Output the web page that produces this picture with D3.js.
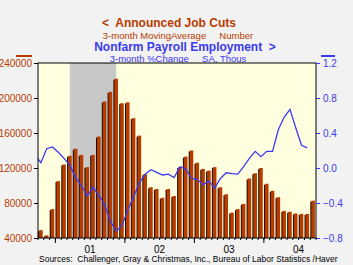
<!DOCTYPE html>
<html>
<head>
<meta charset="utf-8">
<script src="https://cdn.jsdelivr.net/npm/d3@7"></script>
<style>
  body { margin: 0; background: #f2f2f2; }
  svg { display: block; font-family: Arial, "Liberation Sans", sans-serif; }
</style>
</head>
<body>
<div id="chart"></div>
<script>
/* Data: monthly, Oct 2000 - Sep 2004 */
const startMonth = new Date(2000, 9, 1);
const jobCuts = [
  49000, 43000, 73000, 105000, 124000, 134000, 142000, 135000, 121000, 135000, 156000, 196000,
  207000, 222000, 194000, 195000, 177000, 157000, 113000, 98000, 96000, 86000, 96000, 88000,
  121000, 133000, 140000, 126000, 119000, 117000, 121000, 98000, 90000, 69000, 73000, 79000,
  108000, 114000, 120000, 102000, 94000, 86600, 71000, 70000, 68000, 67500, 67500, 82700
];
/* Payroll 3-month % change, Sep 2000 - Aug 2004 */
const payrollStart = new Date(2000, 8, 1);
const payroll = [
  0.15, 0.06, 0.22, 0.24, 0.18, 0.11, 0.03, -0.11, -0.20, -0.32, -0.22, -0.31, -0.42,
  -0.61, -0.72, -0.66, -0.48, -0.33, -0.17, -0.07, -0.02, -0.05, -0.08, -0.07, -0.11,
  0.015, -0.01, -0.12, -0.13, -0.19, -0.15, -0.23, -0.12, -0.055, -0.065, -0.07, 0.015,
  0.11, 0.19, 0.13, 0.19, 0.19, 0.44, 0.58, 0.67, 0.46, 0.26, 0.23
];
const recession = [new Date(2001, 2, 1), new Date(2001, 10, 1)];
const yearLabels = ["01", "02", "03", "04"];
const leftTicks = [40000, 80000, 120000, 160000, 200000, 240000];
const rightTicks = [-0.8, -0.4, 0.0, 0.4, 0.8, 1.2];

const orange = "#b83c00";
const blue = "#3a3af0";

const W = 353, H = 265;
const margin = { top: 63, right: 37, bottom: 27, left: 38 };
const iw = W - margin.left - margin.right;
const ih = H - margin.top - margin.bottom;

const svg = d3.select("#chart").append("svg").attr("width", W).attr("height", H);

/* month index scale */
const monthIdx = d => d3.timeMonth.count(startMonth, d);
const x = d3.scaleLinear().domain([0, 48]).range([margin.left, margin.left + iw]);
const yL = d3.scaleLinear().domain([40000, 240000]).range([margin.top + ih, margin.top]);
const yR = d3.scaleLinear().domain([-0.8, 1.2]).range([margin.top + ih, margin.top]);

/* Titles */
svg.append("text").attr("x", 169).attr("y", 27).attr("text-anchor", "middle")
  .style("font-size", "12px").style("font-weight", "bold").style("fill", orange)
  .attr("xml:space", "preserve")
  .text("<  Announced Job Cuts");
svg.append("text").attr("x", 178).attr("y", 38.5).attr("text-anchor", "middle")
  .style("font-size", "9.5px").style("fill", orange).attr("xml:space", "preserve")
  .text("3-month MovingAverage     Number");
svg.append("text").attr("x", 185).attr("y", 50.5).attr("text-anchor", "middle")
  .style("font-size", "12px").style("font-weight", "bold").style("fill", blue)
  .attr("xml:space", "preserve")
  .text("Nonfarm Payroll Employment  >");
svg.append("text").attr("x", 178).attr("y", 62).attr("text-anchor", "middle")
  .style("font-size", "9.5px").style("fill", blue).attr("xml:space", "preserve")
  .text("3-month %Change     SA, Thous");

/* legend dashes */
svg.append("line").attr("x1", 16).attr("x2", 32).attr("y1", 56).attr("y2", 56)
  .style("stroke", orange).style("stroke-width", 2);
svg.append("line").attr("x1", 321).attr("x2", 335).attr("y1", 56).attr("y2", 56)
  .style("stroke", blue).style("stroke-width", 2);

/* Plot background */
svg.append("rect").attr("x", margin.left).attr("y", margin.top)
  .attr("width", iw).attr("height", ih).style("fill", "#ffffe0");

/* Recession shading */
svg.append("rect")
  .attr("x", x(monthIdx(recession[0]) + 0.5))
  .attr("y", margin.top)
  .attr("width", x(monthIdx(recession[1]) + 0.5) - x(monthIdx(recession[0]) + 0.5))
  .attr("height", ih)
  .style("fill", "#c8c8c8");

/* Bars */
const bw = (x(1) - x(0)) * 0.62;
const bars = svg.append("g");
bars.selectAll(".shadow").data(jobCuts).join("rect")
  .attr("x", (d, i) => x(i + 0.5) - bw / 2 - 1)
  .attr("y", d => yL(d) + 1)
  .attr("width", bw)
  .attr("height", d => yL(40000) - yL(d) - 1)
  .style("fill", "#1a1000");
bars.selectAll(".bar").data(jobCuts).join("rect")
  .attr("x", (d, i) => x(i + 0.5) - bw / 2)
  .attr("y", d => yL(d))
  .attr("width", bw)
  .attr("height", d => yL(40000) - yL(d))
  .style("fill", orange);

/* Payroll line, clipped to plot */
svg.append("clipPath").attr("id", "clip").append("rect")
  .attr("x", margin.left).attr("y", margin.top).attr("width", iw).attr("height", ih);
const off = monthIdx(payrollStart);
svg.append("path")
  .datum(payroll)
  .attr("clip-path", "url(#clip)")
  .attr("d", d3.line().x((d, i) => x(off + i + 0.5)).y(d => yR(d)))
  .style("fill", "none").style("stroke", blue).style("stroke-width", 1.3);

/* Frame */
svg.append("rect").attr("x", margin.left).attr("y", margin.top)
  .attr("width", iw).attr("height", ih)
  .style("fill", "none").style("stroke", "#000").style("stroke-width", 1);

/* Left axis */
const gL = svg.append("g").attr("transform", `translate(${margin.left},0)`)
  .call(d3.axisLeft(yL).tickValues(leftTicks).tickSize(4).tickPadding(2).tickFormat(d3.format("d")));
gL.select(".domain").remove();
gL.selectAll("text").style("fill", orange).style("font-size", "10px").style("font-family", "Arial, sans-serif");
gL.selectAll("line").style("stroke", "#000");

/* Right axis */
const gR = svg.append("g").attr("transform", `translate(${margin.left + iw},0)`)
  .call(d3.axisRight(yR).tickValues(rightTicks).tickSize(4).tickPadding(3).tickFormat(d3.format(".1f")));
gR.select(".domain").remove();
gR.selectAll("text").style("fill", blue).style("font-size", "10px").style("font-family", "Arial, sans-serif");
gR.selectAll("line").style("stroke", blue);

/* Bottom axis: month minor ticks, year major ticks */
const bottom = margin.top + ih;
const gB = svg.append("g");
gB.selectAll(".minor").data(d3.range(49)).join("line")
  .attr("x1", d => x(d)).attr("x2", d => x(d))
  .attr("y1", bottom).attr("y2", bottom + 2)
  .style("stroke", "#000");
const yearStarts = yearLabels.map(l => monthIdx(new Date(2000 + (+l), 0, 1)));
gB.selectAll(".major").data(yearStarts).join("line")
  .attr("x1", d => x(d)).attr("x2", d => x(d))
  .attr("y1", bottom).attr("y2", bottom + 5)
  .style("stroke", "#000");
gB.selectAll(".lab").data(yearLabels).join("text")
  .attr("x", (d, i) => x(yearStarts[i] + 6))
  .attr("y", bottom + 15)
  .attr("text-anchor", "middle")
  .style("font-size", "10px")
  .text(d => d);

/* Source */
svg.append("text").attr("x", 39).attr("y", 262)
  .style("font-size", "8.5px").attr("xml:space", "preserve")
  .text("Sources:  Challenger, Gray & Christmas, Inc., Bureau of Labor Statistics /Haver");
</script>
</body>
</html>
